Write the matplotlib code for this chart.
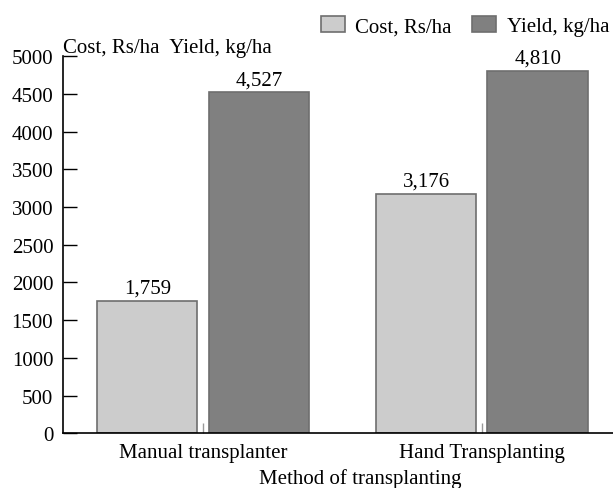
import matplotlib
matplotlib.use("Agg")
import matplotlib.pyplot as plt
import numpy as np

methods = ["Manual transplanter", "Hand Transplanting"]
cost = [1759, 3176]
yield_ = [4527, 4810]
series_names = ["Cost, Rs/ha", "Yield, kg/ha"]
yticks = [0, 500, 1000, 1500, 2000, 2500, 3000, 3500, 4000, 4500, 5000]

LIGHT = "#cccccc"
DARK = "#808080"
EDGE = "#6e6e6e"
FS = 15

plt.rcParams["font.family"] = ["Liberation Serif", "DejaVu Serif"]

fig = plt.figure(figsize=(6.13, 4.89), dpi=100)
ax = fig.add_axes([0.1028, 0.112, 0.8972, 0.771])

x = np.arange(len(methods))
w = 0.36
b1 = ax.bar(x - 0.2, cost, w, color=LIGHT, edgecolor=EDGE, linewidth=1.2,
            label=series_names[0])
b2 = ax.bar(x + 0.2, yield_, w, color=DARK, edgecolor=EDGE, linewidth=1.2,
            label=series_names[1])

for bars, vals in ((b1, cost), (b2, yield_)):
    for r, v in zip(bars, vals):
        ax.annotate(f"{v:,}", (r.get_x() + r.get_width() / 2, v),
                    xytext=(0, 2), textcoords="offset points",
                    ha="center", va="bottom", fontsize=FS)

ax.set_xlim(-0.502, 1.47)
ax.set_ylim(0, 5000)
ax.set_yticks(yticks)
ax.set_xticks(x)
ax.set_xticklabels(methods, fontsize=FS)
ax.tick_params(axis="y", direction="in", length=10, width=1, labelsize=FS, pad=7)
ax.tick_params(axis="x", direction="in", length=7, width=1, color="#999999", pad=7)
ax.set_xlabel("Method of transplanting", fontsize=FS)
ax.xaxis.set_label_coords(0.54, -0.093)

for s in ("top", "right"):
    ax.spines[s].set_visible(False)
for s in ("left", "bottom"):
    ax.spines[s].set_linewidth(1.2)

ax.text(0.0, 0.997, "Cost, Rs/ha  Yield, kg/ha", transform=ax.transAxes,
        ha="left", va="bottom", fontsize=FS)

ax.legend(loc="center right", bbox_to_anchor=(0.993, 1.08), ncol=2, frameon=False,
          fontsize=FS, handlelength=1.15, handleheight=0.77, handletextpad=0.5,
          columnspacing=1.0, borderaxespad=0, borderpad=0)

fig.savefig("out.png", dpi=100)
